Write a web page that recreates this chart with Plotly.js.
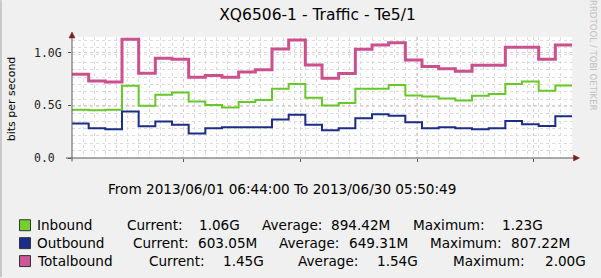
<!DOCTYPE html>
<html>
<head>
<meta charset="utf-8">
<script src="https://cdn.plot.ly/plotly-3.0.1.min.js"></script>
<style>
html,body{margin:0;padding:0;background:#F0F0F0;}
#chart{width:601px;height:278px;}
</style>
</head>
<body>
<div id="chart"></div>
<script>
// ---- data (Gbps, one value per step/day) ----
const seriesNames = ["Inbound", "Outbound", "Totalbound"];
const inbound = [0.459,0.453,0.459,0.687,0.497,0.601,0.623,0.538,0.504,0.481,0.532,0.551,0.658,0.703,0.573,0.500,0.523,0.658,0.658,0.693,0.595,0.585,0.566,0.547,0.592,0.608,0.703,0.727,0.639,0.689];
const outbound = [0.327,0.282,0.273,0.443,0.301,0.348,0.317,0.232,0.282,0.292,0.292,0.292,0.367,0.412,0.317,0.263,0.282,0.377,0.415,0.402,0.339,0.282,0.292,0.282,0.273,0.282,0.352,0.320,0.305,0.396];
const totalbound = [0.797,0.731,0.722,1.129,0.807,0.949,0.939,0.768,0.784,0.769,0.817,0.838,1.037,1.122,0.885,0.759,0.803,1.035,1.075,1.097,0.933,0.869,0.848,0.826,0.882,0.882,1.053,1.053,0.939,1.075];
const yTickVals = [0, 0.5, 1.0];
const yTickText = ["0.0\u00a0", "0.5G", "1.0G"];
const currentVals = ["1.06G", "603.05M", "1.45G"];
const averageVals = ["894.42M", "649.31M", "1.54G"];
const maximumVals = ["1.23G", "807.22M", "2.00G"];
const titleText = "XQ6506-1 - Traffic - Te5/1";
const periodText = "From 2013/06/01 06:44:00 To 2013/06/30 05:50:49";
const yTitle = "bits per second";
const watermark = "RRDTOOL / TOBI OETIKER";

// ---- styling ----
const lineColors = ["#66C829", "#1C2D86", "#CC4F8E"];
const boxColors = ["#74D02C", "#1D2C8C", "#D0569A"];
const lineWidths = [2, 2, 3];

// plot geometry in pixels
const L = 72, R = 572, T = 37, B = 158.5, W = 601, H = 278;
const px = x => (x - L) / (R - L);
const py = y => (B - y) / (B - T);

function stepTrace(vals, i) {
  const xs = vals.map((_, k) => k).concat([vals.length]);
  const ys = vals.concat([vals[vals.length - 1]]);
  return {x: xs, y: ys, type: "scatter", mode: "lines", name: seriesNames[i],
          line: {shape: "hv", color: lineColors[i], width: lineWidths[i]},
          hoverinfo: "skip", showlegend: false};
}
const traces = [stepTrace(inbound, 0), stepTrace(outbound, 1), stepTrace(totalbound, 2)];

const legFont = {family: "DejaVu Sans", size: 13.6, color: "#000"};
const annotations = [];
function txt(x, y, t, font, extra) {
  annotations.push(Object.assign({xref: "paper", yref: "paper", x: px(x), y: py(y),
    text: t, showarrow: false, xanchor: "left", yanchor: "middle", font: font, borderpad: 0}, extra || {}));
}
// period line
txt(282, 190, periodText, legFont, {xanchor: "center"});
// legend rows
const rowY = [226, 244, 262];
const colX = [
  [36, 125.5, 198, 260.5, 330, 412, 501],
  [36, 132, 197, 278, 348, 428.5, 510],
  [36, 147.5, 222, 297, 375.5, 451.5, 543.5]
];
const shapes = [];
for (let i = 0; i < 3; i++) {
  const y = rowY[i], c = colX[i];
  txt(c[0], y, seriesNames[i], legFont);
  txt(c[1], y, "Current:", legFont);
  txt(c[2], y, currentVals[i], legFont);
  txt(c[3], y, "Average:", legFont);
  txt(c[4], y, averageVals[i], legFont);
  txt(c[5], y, "Maximum:", legFont);
  txt(c[6], y, maximumVals[i], legFont);
  shapes.push({type: "rect", xref: "paper", yref: "paper",
    x0: px(19.5), x1: px(30.5), y0: py(y - 5.5), y1: py(y + 5.5),
    fillcolor: boxColors[i], line: {color: "#333", width: 1}});
}
// watermark
txt(593, 55, watermark, {family: "DejaVu Sans", size: 8.6, color: "#C2C2C2"}, {xanchor: "center", textangle: 90});
// y axis title
txt(11, 99.5, yTitle, {family: "DejaVu Sans", size: 11, color: "#000"}, {xanchor: "center", textangle: -90});

// axis lines & arrows
const axisCol = "#5A5A5A", arrowCol = "#7B1F1F";
shapes.push({type: "line", xref: "paper", yref: "paper", x0: px(66), x1: px(575), y0: py(B), y1: py(B), line: {color: axisCol, width: 1}, layer: "above"});
shapes.push({type: "line", xref: "paper", yref: "paper", x0: 0, x1: 0, y0: py(162), y1: py(36), line: {color: axisCol, width: 1}, layer: "above"});
shapes.push({type: "path", xref: "paper", yref: "paper",
  path: `M ${px(573.5)} ${py(B - 3)} L ${px(579.5)} ${py(B)} L ${px(573.5)} ${py(B + 3)} Z`,
  fillcolor: arrowCol, line: {color: arrowCol, width: 0.5}, layer: "above"});
shapes.push({type: "path", xref: "paper", yref: "paper",
  path: `M ${px(L - 3)} ${py(38)} L ${px(L)} ${py(32)} L ${px(L + 3)} ${py(38)} Z`,
  fillcolor: arrowCol, line: {color: arrowCol, width: 0.5}, layer: "above"});
// 3D-ish left border
shapes.push({type: "rect", xref: "paper", yref: "paper", x0: px(0), x1: px(2), y0: py(H), y1: py(0),
  fillcolor: "#C9C9C9", line: {width: 0}});

const layout = {
  width: W, height: H,
  paper_bgcolor: "#F0F0F0", plot_bgcolor: "#FFFFFF",
  margin: {l: L, r: W - R, t: T, b: H - B, pad: 0},
  title: {text: titleText, x: 317.5 / W, xanchor: "center", xref: "container",
          y: 1 - 14.5 / H, yanchor: "middle", yref: "container",
          font: {family: "DejaVu Sans", size: 15.5, color: "#000"}},
  xaxis: {range: [0, 30], showticklabels: false, zeroline: false, showline: false,
          tick0: 6.7, dtick: 7, ticks: "outside", ticklen: 3, tickcolor: axisCol,
          showgrid: true, gridcolor: "#EBC6C6", griddash: "dot", gridwidth: 1,
          minor: {tick0: 0, dtick: 0.6667, showgrid: true, gridcolor: "#DCDCDC", griddash: "dot", gridwidth: 1, ticks: ""},
          fixedrange: true},
  yaxis: {range: [0, (B - T) / 105.6], tickvals: yTickVals, ticktext: yTickText,
          ticks: "outside", ticklen: 3, tickcolor: axisCol, ticklabelstandoff: 4,
          tickfont: {family: "DejaVu Sans Mono", size: 11.5, color: "#222"},
          zeroline: false, showline: false,
          showgrid: true, gridcolor: "#EBC6C6", griddash: "dot", gridwidth: 1,
          minor: {tick0: 0, dtick: 0.07, showgrid: true, gridcolor: "#DCDCDC", griddash: "dot", gridwidth: 1, ticks: ""},
          fixedrange: true},
  showlegend: false,
  hovermode: false,
  annotations: annotations,
  shapes: shapes
};

Plotly.newPlot("chart", traces, layout, {displayModeBar: false, staticPlot: true});
</script>
</body>
</html>
